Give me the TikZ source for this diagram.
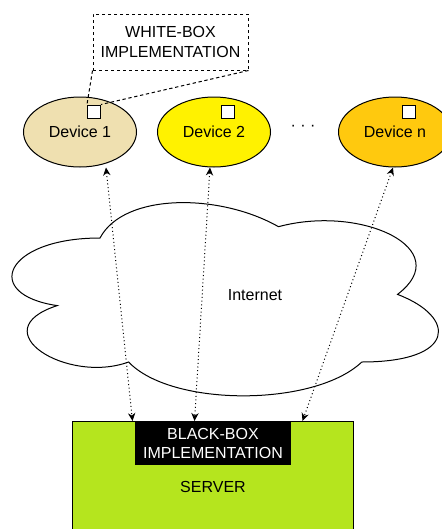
\documentclass[tikz,border=0pt]{standalone}
\usepackage{fontspec}
\setmainfont{Liberation Sans}
\usepackage{tikz}
\usetikzlibrary{shapes.geometric,arrows.meta,positioning}
\definecolor{devonecol}{HTML}{EFE0B0}
\definecolor{devtwocol}{HTML}{FFF200}
\definecolor{devncol}{HTML}{FFC90E}
\definecolor{servercol}{HTML}{B5E51E}
\tikzstyle{device} = [draw, ellipse,
	line width=0.75pt,
	minimum width=84.75pt,
	minimum height=52.5pt,
	inner sep=0pt,
	text centered
	]
\tikzstyle{marker} = [draw, rectangle,
	fill=white,
	line width=0.75pt,
	minimum size=9.75pt,
	inner sep=0pt
	]
\tikzstyle{callout} = [draw, rectangle,
	dash pattern=on 2.5pt off 2pt,
	line width=0.75pt,
	minimum width=116.25pt,
	minimum height=42pt,
	align=center
	]
\tikzstyle{pfeil} = [draw,
	{Stealth[length=6pt,width=5.5pt]}-{Stealth[length=6pt,width=5.5pt]},
	line width=0.75pt, dotted
	]
\tikzstyle{leitung} = [draw,
	line width=0.75pt, dash pattern=on 2.5pt off 2pt
	]

\begin{document}
\begin{tikzpicture}[x=0.75pt, y=0.75pt, font=\fontsize{12pt}{14.5pt}\selectfont]
    \useasboundingbox (0,0) rectangle (442,-529);

    % cloud
    \draw [line width=0.75pt, fill=white]
        (100,-238) .. controls (4.8,-238) and (-19,-294.4) .. (57.2,-305.6)
        .. controls (-19,-330.4) and (66.7,-384.6) .. (128.6,-362)
        .. controls (171.4,-407.1) and (314.2,-407.1) .. (361.8,-362)
        .. controls (457,-362) and (457,-316.9) .. (397.5,-294.4)
        .. controls (457,-249.3) and (361.8,-204.2) .. (278.5,-226.7)
        .. controls (219,-192.9) and (123.8,-192.9) .. (100,-238) -- cycle;
    \node (internet) at (255,-295) {Internet};

    % devices
    \node [device, fill=devonecol] (dev1) at (80,-132) {Device 1};
    \node [device, fill=devtwocol, right=15pt of dev1] (dev2) {Device 2};
    \node [device, fill=devncol] (devn) at (395,-132) {Device n};
    \node (dots) at (303,-128) {· · ·};

    \node [marker] (sq1) at ([xshift=10.5pt,yshift=-11.25pt]dev1.north) {};
    \node [marker] (sq2) at ([xshift=10.5pt,yshift=-11.25pt]dev2.north) {};
    \node [marker] (sqn) at ([xshift=10.5pt,yshift=-11.25pt]devn.north) {};

    \node [callout] (white) at (170.5,-42) {WHITE-BOX\\IMPLEMENTATION};
    \draw [leitung] (white.south west) -- (sq1.north west);
    \draw [leitung] (white.south east) -- (sq1.north east);

    % server
    \node [draw, line width=0.75pt, fill=servercol, anchor=north,
        minimum width=210.75pt, minimum height=105pt] (server) at (212.5,-421) {};
    \node [fill=black, text=white, anchor=north, align=center, inner sep=0pt,
        minimum width=117pt, minimum height=33pt] (bbox) at (213,-421)
        {BLACK-BOX\\IMPLEMENTATION};
    \node [below=8pt of bbox] (srvlabel) {SERVER};

    % links
    \draw [pfeil] ([xshift=19.5pt]dev1.south) -- ([xshift=45.75pt]server.north west);
    \draw [pfeil] ([xshift=-3pt]dev2.south) -- ([xshift=92.25pt]server.north west);
    \draw [pfeil] ([xshift=-1.5pt]devn.south) -- ([xshift=173.25pt]server.north west);
\end{tikzpicture}
\end{document}
